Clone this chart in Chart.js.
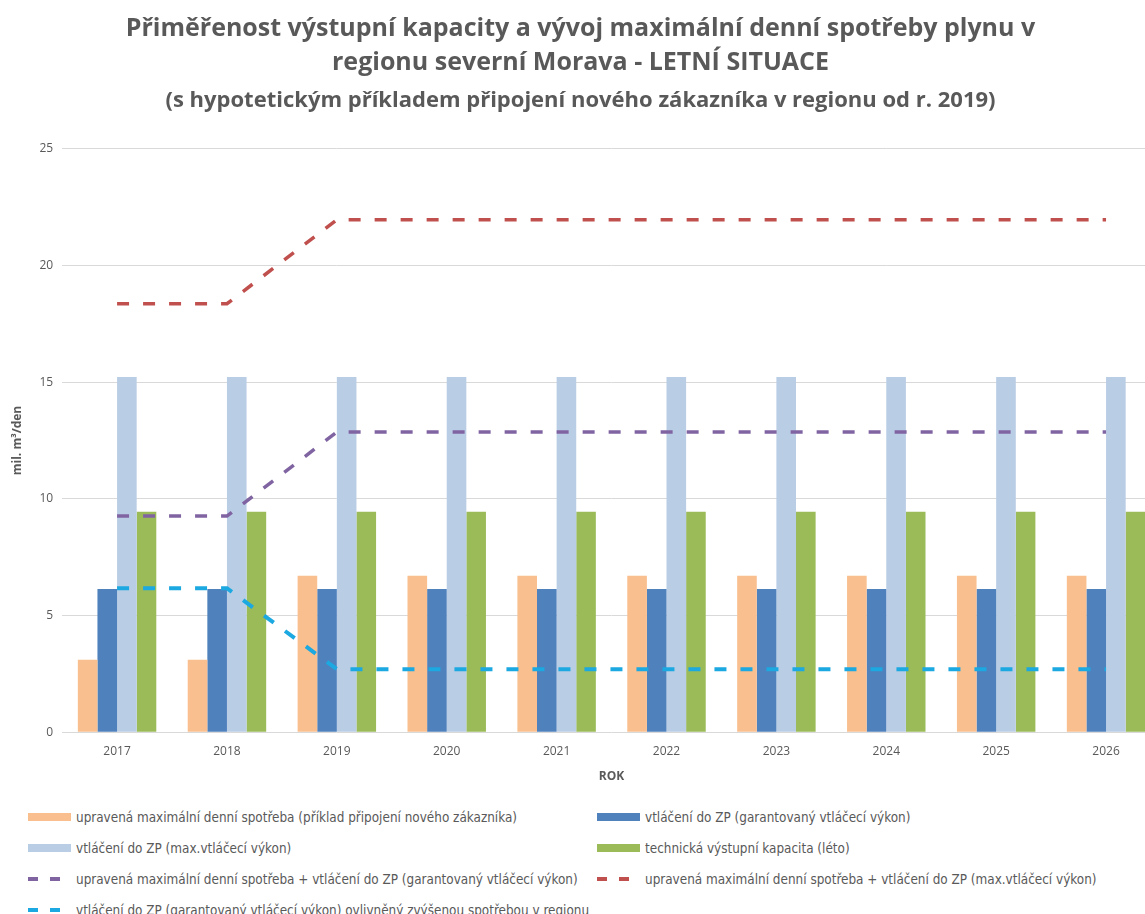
<!DOCTYPE html>
<html lang="cs">
<head>
<meta charset="utf-8">
<title>Přiměřenost výstupní kapacity – severní Morava</title>
<script src="https://cdn.jsdelivr.net/npm/chart.js@4"></script>
<style>
    html, body { margin: 0; padding: 0; background: #fff; overflow: hidden; }
    #wrap { position: relative; width: 1145px; height: 914px; overflow: hidden; }
    #chart-box { position: absolute; left: 0; top: 0; width: 1165px; height: 788px; }
    #legenda {
        position: absolute; left: 0; top: 802px; width: 1145px;
        font-family: "Liberation Sans Narrow", "DejaVu Sans Condensed", sans-serif;
        font-size: 13.4px; color: #595959;
    }
    .leg-item { position: absolute; display: flex; align-items: center; height: 20px; white-space: nowrap; }
    .leg-item svg { margin-right: 5px; }
</style>
</head>
<body>
<div id="wrap">
    <div id="chart-box"><canvas id="graf"></canvas></div>
    <div id="legenda"></div>
</div>
<script>
// --- DATA ---
const roky = ['2017', '2018', '2019', '2020', '2021', '2022', '2023', '2024', '2025', '2026'];

const spotrebaUpravena = [3.1, 3.1, 6.7, 6.7, 6.7, 6.7, 6.7, 6.7, 6.7, 6.7];
const vtlaceniGarant = [6.14, 6.14, 6.14, 6.14, 6.14, 6.14, 6.14, 6.14, 6.14, 6.14];
const vtlaceniMax = [15.22, 15.22, 15.22, 15.22, 15.22, 15.22, 15.22, 15.22, 15.22, 15.22];
const kapacitaLeto = [9.45, 9.45, 9.45, 9.45, 9.45, 9.45, 9.45, 9.45, 9.45, 9.45];

const spotrebaPlusGarant = [9.26, 9.26, 12.86, 12.86, 12.86, 12.86, 12.86, 12.86, 12.86, 12.86];
const spotrebaPlusMax = [18.36, 18.36, 21.96, 21.96, 21.96, 21.96, 21.96, 21.96, 21.96, 21.96];
const vtlaceniOvlivnene = [6.17, 6.17, 2.7, 2.7, 2.7, 2.7, 2.7, 2.7, 2.7, 2.7];

const yTicks = [0, 5, 10, 15, 20, 25];

const SEDA = '#595959';

// --- GRAF ---
function sloupec(label, data, barva) {
    return { type: 'bar', label, data, backgroundColor: barva, borderWidth: 0, order: 2 };
}
function cara(label, data, barva, sirka) {
    return {
        type: 'line', label, data,
        borderColor: barva, backgroundColor: barva,
        borderWidth: sirka, borderDash: [12, 14],
        pointRadius: 0, tension: 0, fill: false, order: 1
    };
}

const datasety = [
    sloupec('upravená maximální denní spotřeba (příklad připojení nového zákazníka)', spotrebaUpravena, '#F9BF8F'),
    sloupec('vtláčení do ZP (garantovaný vtláčecí výkon)', vtlaceniGarant, '#4F81BD'),
    sloupec('vtláčení do ZP (max.vtláčecí výkon)', vtlaceniMax, '#B9CDE5'),
    sloupec('technická výstupní kapacita (léto)', kapacitaLeto, '#9BBB59'),
    cara('upravená maximální denní spotřeba + vtláčení do ZP (garantovaný vtláčecí výkon)', spotrebaPlusGarant, '#8064A2', 3.5),
    cara('upravená maximální denní spotřeba + vtláčení do ZP (max.vtláčecí výkon)', spotrebaPlusMax, '#C0504D', 3.5),
    cara('vtláčení do ZP (garantovaný vtláčecí výkon) ovlivněný zvýšenou spotřebou v regionu', vtlaceniOvlivnene, '#1CA8E0', 4)
];

const graf = new Chart(document.getElementById('graf'), {
    type: 'bar',
    data: { labels: roky, datasets: datasety },
    options: {
        responsive: true,
        maintainAspectRatio: false,
        animation: false,
        layout: { padding: { top: 0, left: 0, right: 4, bottom: 0 } },
        datasets: { bar: { categoryPercentage: 0.714, barPercentage: 1.0 } },
        plugins: {
            legend: { display: false },
            tooltip: { enabled: false },
            title: {
                display: true,
                text: ['Přiměřenost výstupní kapacity a vývoj maximální denní spotřeby plynu v',
                       'regionu severní Morava - LETNÍ SITUACE'],
                color: SEDA,
                font: { family: 'Open Sans', size: 25, weight: 'bold', lineHeight: 1.36 },
                padding: { top: 12, bottom: 5 }
            },
            subtitle: {
                display: true,
                text: '(s hypotetickým příkladem připojení nového zákazníka v regionu od r. 2019)',
                color: SEDA,
                font: { family: 'Open Sans', size: 22, weight: 'bold', lineHeight: 1.4 },
                padding: { top: 0, bottom: 33 }
            }
        },
        scales: {
            x: {
                grid: { display: false },
                border: { display: false },
                ticks: { color: SEDA, font: { family: 'Open Sans', size: 12 }, padding: 4 },
                title: {
                    display: true, text: 'ROK', color: SEDA,
                    font: { family: 'Open Sans', size: 12, weight: 'bold' },
                    padding: { top: 7 }
                }
            },
            y: {
                min: 0, max: 25,
                afterBuildTicks: (axis) => { axis.ticks = yTicks.map(v => ({ value: v })); },
                grid: { color: '#D9D9D9', drawTicks: false, lineWidth: 1 },
                border: { display: false },
                ticks: { color: SEDA, font: { family: 'Open Sans', size: 12 }, padding: 9 },
                title: {
                    display: true, text: 'mil. m³/den', color: SEDA,
                    font: { family: 'Open Sans', size: 12, weight: 'bold' },
                    padding: { top: 10, bottom: 6 }
                }
            }
        }
    }
});

// --- LEGENDA (2 sloupce) ---
function vykresliLegendu() {
    const box = document.getElementById('legenda');
    const sloupceX = [28, 597];
    const radkyY = [5, 36, 67, 98];
    graf.data.datasets.forEach((ds, i) => {
        const el = document.createElement('div');
        el.className = 'leg-item';
        el.style.left = sloupceX[i % 2] + 'px';
        el.style.top = radkyY[Math.floor(i / 2)] + 'px';
        let svg;
        if (ds.type === 'bar') {
            svg = `<svg width="43" height="10"><rect x="0" y="1" width="43" height="8" fill="${ds.backgroundColor}"/></svg>`;
        } else {
            svg = `<svg width="43" height="10"><line x1="0" y1="5" x2="43" y2="5" stroke="${ds.borderColor}" stroke-width="4" stroke-dasharray="10,12"/></svg>`;
        }
        el.innerHTML = svg + '<span>' + ds.label + '</span>';
        box.appendChild(el);
    });
}
vykresliLegendu();
</script>
</body>
</html>
